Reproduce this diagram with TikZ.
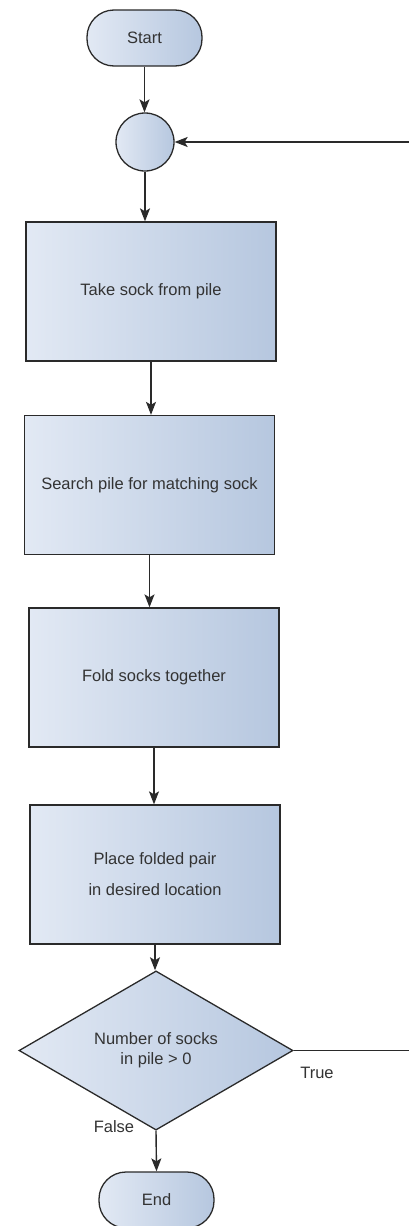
\documentclass[tikz,border=0pt]{standalone}
\usepackage{fontspec}
\setmainfont{Liberation Sans}
\usetikzlibrary{shapes.geometric,arrows.meta}
\definecolor{fillL}{HTML}{E2E9F4}
\definecolor{fillR}{HTML}{B6C7DF}
\definecolor{edgec}{HTML}{2A2A2A}
\definecolor{txt}{HTML}{333333}
\begin{document}
\begin{tikzpicture}[x=1pt,y=-1pt,
  every node/.style={font=\fontsize{16.5}{20}\selectfont, text=txt},
  fillshade/.style={left color=fillL, right color=fillR, draw=edgec, line width=1.3pt},
  procbox/.style={fillshade, rectangle, minimum width=250, minimum height=139, inner sep=0, align=center},
  term/.style={fillshade, rectangle, rounded corners=27, minimum width=115, minimum height=56},
  joint/.style={fillshade, circle, minimum size=58, inner sep=0},
  decision/.style={fillshade, diamond, minimum width=274, minimum height=137, inner sep=0, align=center},
  flow/.style={draw=edgec, line width=1.4pt, -{Stealth[length=13pt,width=10pt,inset=3pt]}},
  lbl/.style={inner sep=0}
]
\useasboundingbox (0,0) rectangle (409,1226);
\clip (0,0) rectangle (409,1226);
\node[term] (start) at (144.5,38) {Start};
\node[joint] (jn) at (145,142) {};
\node[procbox] (b1) at (151,291.5) {Take sock from pile};
\node[procbox] (b2) at (149.5,485) {Search pile for matching sock};
\node[procbox] (b3) at (154,677.5) {Fold socks together};
\node[procbox] (b4) at (155,874.5) {Place folded pair\\[11pt]in desired location};
\node[decision] (dec) at (156,1050.5) {Number of socks\\in pile > 0};
\node[term] (end) at (156.5,1200) {End};
\coordinate (rt) at (430,1050.5);
\node[lbl] (tl) at (317,1073) {True};
\node[lbl] (fl) at (114,1127) {False};
\draw[flow] (start.south) -- (start.south |- jn.north);
\draw[flow] (jn.south) -- (jn.south |- b1.north);
\draw[flow] (b1.south) -- (b1.south |- b2.north);
\draw[flow] (b2.south) -- (b2.south |- b3.north);
\draw[flow] (b3.south) -- (b3.south |- b4.north);
\draw[flow] (b4.south) -- (b4.south |- dec.north);
\draw[flow] (dec.south) -- (end.north);
\draw[flow] (dec.east) -- (rt) |- (jn.east);
\end{tikzpicture}
\end{document}
